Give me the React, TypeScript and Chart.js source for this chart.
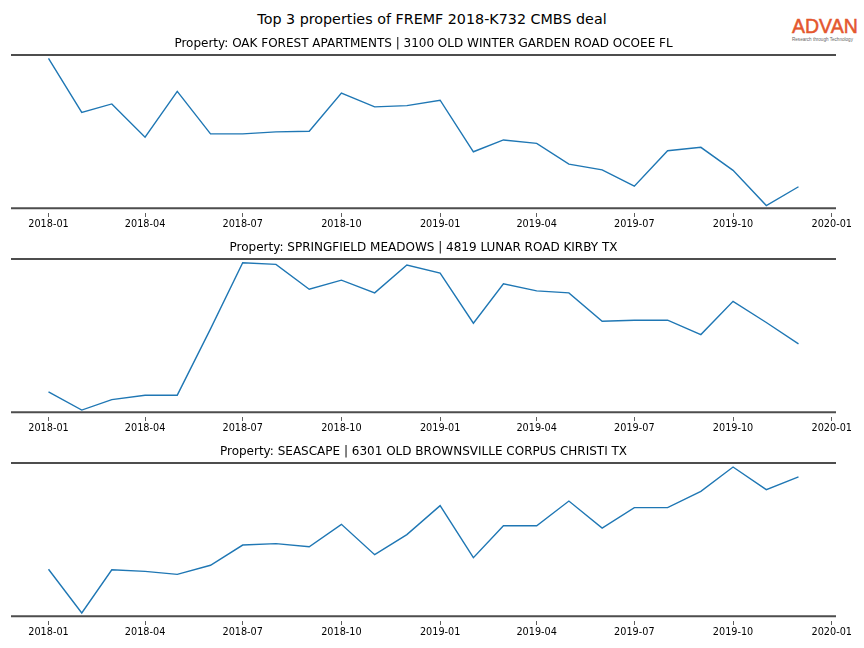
import React, { useEffect, useRef } from "react";
import { Chart, registerables } from "chart.js";

Chart.register(...registerables);

const MAIN_TITLE = "Top 3 properties of FREMF 2018-K732 CMBS deal";

const MONTHS = [
  "2018-01", "2018-02", "2018-03", "2018-04", "2018-05", "2018-06",
  "2018-07", "2018-08", "2018-09", "2018-10", "2018-11", "2018-12",
  "2019-01", "2019-02", "2019-03", "2019-04", "2019-05", "2019-06",
  "2019-07", "2019-08", "2019-09", "2019-10", "2019-11", "2019-12",
];

const TICK_LABELS = [
  "2018-01", "2018-04", "2018-07", "2018-10",
  "2019-01", "2019-04", "2019-07", "2019-10", "2020-01",
];

const TITLES = [
  "Property: OAK FOREST APARTMENTS | 3100 OLD WINTER GARDEN ROAD OCOEE FL",
  "Property: SPRINGFIELD MEADOWS | 4819 LUNAR ROAD KIRBY TX",
  "Property: SEASCAPE | 6301 OLD BROWNSVILLE CORPUS CHRISTI TX",
];

const OAK_FOREST = [
  97.8, 62.6, 68.1, 46.4, 76.3, 48.6, 48.6, 49.9, 50.3, 75.2, 66.2, 67.0,
  70.5, 36.9, 44.6, 42.4, 28.8, 25.1, 14.5, 37.6, 39.8, 24.8, 1.8, 14.1,
];

const SPRINGFIELD = [
  13.4, 1.5, 8.3, 11.2, 11.2, 54.4, 97.6, 96.5, 80.3, 86.2, 77.9, 96.1,
  90.8, 58.1, 83.8, 79.2, 77.9, 59.4, 60.1, 60.1, 50.7, 72.4, 58.6, 44.7,
];

const SEASCAPE = [
  30.7, 2.2, 30.4, 29.3, 27.4, 33.3, 46.5, 47.4, 45.4, 60.0, 40.2, 53.3,
  72.2, 38.3, 59.1, 59.1, 75.2, 57.6, 70.9, 70.9, 81.5, 97.4, 82.6, 90.9,
];

const SERIES = [OAK_FOREST, SPRINGFIELD, SEASCAPE];

const EPOCH = Date.UTC(2018, 0, 1);
function toDays(label: string): number {
  const [y, m] = label.split("-").map(Number);
  return Math.round((Date.UTC(y, m - 1, 1) - EPOCH) / 86400000);
}

const spinePlugin = {
  id: "spines",
  afterDraw(chart: any) {
    const { ctx, chartArea } = chart;
    ctx.save();
    ctx.strokeStyle = "#4d4d4d";
    ctx.lineWidth = 2;
    ctx.beginPath();
    ctx.moveTo(chartArea.left, chartArea.top);
    ctx.lineTo(chartArea.right, chartArea.top);
    ctx.moveTo(chartArea.left, chartArea.bottom);
    ctx.lineTo(chartArea.right, chartArea.bottom);
    ctx.stroke();
    ctx.restore();
  },
};

function Panel({ index, top }: { index: number; top: number }) {
  const ref = useRef<HTMLCanvasElement | null>(null);
  useEffect(() => {
    if (!ref.current) return;
    const values = SERIES[index];
    const xs = MONTHS.map(toDays);
    const first = xs[0];
    const last = xs[xs.length - 1];
    const span = last - first;
    const chart = new Chart(ref.current, {
      type: "line",
      data: {
        datasets: [
          {
            data: values.map((v, i) => ({ x: xs[i], y: v })),
            borderColor: "#1f77b4",
            borderWidth: 1.4,
            pointRadius: 0,
            tension: 0,
            fill: false,
          },
        ],
      },
      options: {
        responsive: false,
        animation: false,
        events: [],
        layout: { padding: { left: 11, right: 28, top: 0, bottom: 3 } },
        plugins: {
          legend: { display: false },
          tooltip: { enabled: false },
          title: {
            display: true,
            text: TITLES[index],
            color: "#000",
            font: { family: "DejaVu Sans", size: 12, weight: "normal" },
            padding: { top: 2.2, bottom: 4.4 },
          },
        },
        scales: {
          x: {
            type: "linear",
            min: first - 0.05 * span,
            max: last + 0.05 * span,
            afterBuildTicks: (axis: any) => {
              axis.ticks = TICK_LABELS.map((l) => ({ value: toDays(l) }));
            },
            ticks: {
              autoSkip: false,
              maxRotation: 0,
              padding: 1,
              color: "#000",
              font: { family: "DejaVu Sans", size: 9.7 },
              callback: (value: any) => {
                const lab = TICK_LABELS.find((l) => toDays(l) === value);
                return lab ?? "";
              },
            },
            grid: {
              display: true,
              drawOnChartArea: false,
              drawTicks: true,
              tickLength: 9,
              tickColor: "#333",
              tickWidth: 0.8,
              tickBorderDash: [0, 5, 4, 20],
            },
            border: { display: false },
          },
          y: {
            display: false,
            min: 0,
            max: 100,
          },
        },
      },
      plugins: [spinePlugin],
    } as any);
    return () => chart.destroy();
  }, [index]);
  return (
    <canvas
      ref={ref}
      width={864}
      height={200}
      style={{ position: "absolute", left: 0, top, width: 864, height: 200 }}
    />
  );
}

export default function App() {
  return (
    <div
      style={{
        position: "absolute",
        left: 0,
        top: 0,
        width: 864,
        height: 648,
        background: "#fff",
        overflow: "hidden",
      }}
    >
      <div
        style={{
          position: "absolute",
          left: 0,
          top: 11,
          width: 864,
          textAlign: "center",
          fontFamily: "DejaVu Sans",
          fontSize: 14.3,
          lineHeight: "16px",
          color: "#000",
        }}
      >
        {MAIN_TITLE}
      </div>
      <div
        style={{
          position: "absolute",
          left: 792,
          top: 15,
          width: 70,
          fontFamily: "Liberation Sans",
          color: "#e4572e",
        }}
      >
        <div
          style={{
            fontSize: 19.5,
            lineHeight: "22px",
            WebkitTextStroke: "0.5px #e4572e",
          }}
        >
          ADVAN
        </div>
        <div style={{ fontSize: 4.6, lineHeight: "5px", color: "#666", whiteSpace: "nowrap" }}>
          Research through Technology
        </div>
      </div>
      <Panel index={0} top={34} />
      <Panel index={1} top={238} />
      <Panel index={2} top={442} />
    </div>
  );
}
